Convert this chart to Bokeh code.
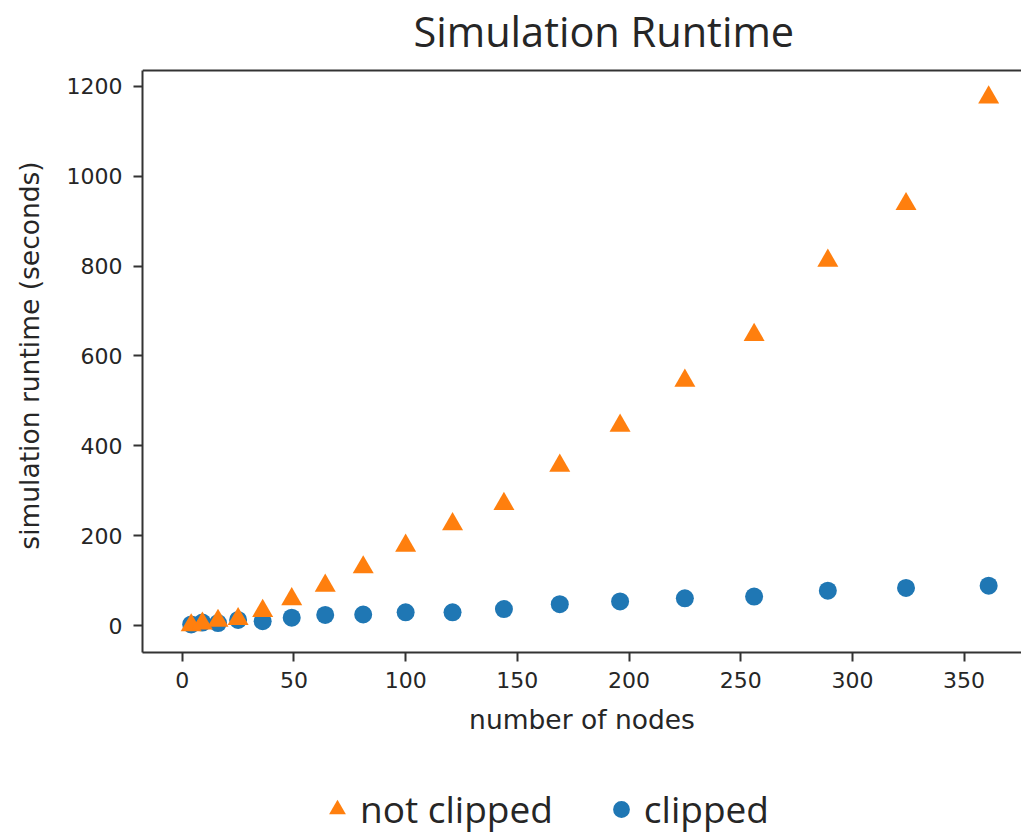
from bokeh.plotting import figure
from bokeh.layouts import column
from bokeh.models import (Legend, LegendItem, FixedTicker, Title, Span,
                          ColumnDataSource, Range1d)
from bokeh.embed import file_html
from bokeh.resources import INLINE

# ---- data ----
nodes = [4, 9, 16, 25, 36, 49, 64, 81, 100, 121, 144, 169, 196, 225, 256, 289, 324, 361]
not_clipped = [1, 5, 11, 15, 33, 59, 89, 130, 178, 226, 271, 356, 445, 545, 647, 812, 938, 1175]
clipped = [3, 7, 6, 13, 10, 18, 24, 25, 30, 30, 37, 48, 54, 61, 65, 78, 84, 89]
x_ticks = [0, 50, 100, 150, 200, 250, 300, 350]
y_ticks = [0, 200, 400, 600, 800, 1000, 1200]
series_labels = ["not clipped", "clipped"]

X_MIN, X_MAX = -17.8, 375.7      # visible x extent
Y_MIN, Y_AXIS_TOP = -59.5, 1235  # axes box (matplotlib style margins)
Y_VIEW_TOP = 1261.7              # room above the box for the title

BLUE = "#1f77b4"
ORANGE = "#ff7f0e"
TXT = "#262626"
SPINE = "#333333"

p = figure(frame_width=879, frame_height=594,
           x_range=Range1d(X_MIN, X_MAX), y_range=Range1d(Y_MIN, Y_VIEW_TOP),
           output_backend="svg", toolbar_location=None,
           min_border_left=142, min_border_right=0, min_border_top=58,
           min_border_bottom=100)
p.outline_line_color = None
p.grid.grid_line_color = None
p.background_fill_color = "white"
p.border_fill_color = "white"

src = ColumnDataSource(dict(x=nodes, nc=not_clipped, c=clipped))
r_c = p.scatter("x", "c", source=src, marker="circle", size=18,
                fill_color=BLUE, line_color=None)
r_nc = p.scatter("x", "nc", source=src, marker="triangle", size=21,
                 fill_color=ORANGE, line_color=None)

for ax in (p.xaxis[0], p.yaxis[0]):
    ax.axis_line_color = SPINE
    ax.axis_line_width = 2
    ax.major_tick_line_color = SPINE
    ax.major_tick_line_width = 2
    ax.major_tick_out = 9
    ax.major_tick_in = 0
    ax.minor_tick_line_color = None
    ax.major_label_text_font = "DejaVu Sans"
    ax.major_label_text_font_size = "22px"
    ax.major_label_text_color = TXT
    ax.axis_label_text_font = "DejaVu Sans"
    ax.axis_label_text_font_size = "26.5px"
    ax.axis_label_text_font_style = "normal"
    ax.axis_label_text_color = TXT

p.xaxis.ticker = FixedTicker(ticks=x_ticks)
p.yaxis.ticker = FixedTicker(ticks=y_ticks)
p.yaxis.bounds = (Y_MIN, Y_AXIS_TOP)
p.xaxis.axis_label = "number of nodes"
p.yaxis.axis_label = "simulation runtime (seconds)"
p.xaxis.major_label_standoff = 10
p.yaxis.major_label_standoff = 11
p.xaxis.axis_label_standoff = 13
p.yaxis.axis_label_standoff = 19

# top spine of the axes box
p.add_layout(Span(location=Y_AXIS_TOP, dimension="width",
                  line_color=SPINE, line_width=2))

p.add_layout(Title(text="Simulation Runtime", align="left", offset=271,
                   standoff=0, text_font="Open Sans", text_font_size="41.5px",
                   text_font_style="normal", text_color=TXT), "above")

# ---- legend strip below the chart ----
lg = figure(frame_width=879, frame_height=82,
            x_range=Range1d(0, 1), y_range=Range1d(0, 1),
            output_backend="svg", toolbar_location=None,
            x_axis_type=None, y_axis_type=None,
            min_border_left=142, min_border_right=0,
            min_border_top=0, min_border_bottom=0)
lg.outline_line_color = None
lg.grid.grid_line_color = None
dummy = ColumnDataSource(dict(x=[-5], y=[-5]))  # off-view, only feeds the legend swatches
l_nc = lg.scatter("x", "y", source=dummy, marker="triangle",
                  fill_color=ORANGE, line_color=None)
l_c = lg.scatter("x", "y", source=dummy, marker="circle",
                 fill_color=BLUE, line_color=None)
legend = Legend(items=[LegendItem(label=series_labels[0], renderers=[l_nc]),
                       LegendItem(label=series_labels[1], renderers=[l_c])],
                orientation="horizontal", location=(174, 0),
                glyph_width=42, glyph_height=42, label_standoff=2,
                spacing=47, padding=0, margin=0,
                label_text_font="Open Sans", label_text_font_size="37px",
                label_text_color=TXT, border_line_color=None,
                background_fill_alpha=0)
lg.add_layout(legend, "center")

layout = column(p, lg, spacing=0)
open("out.html", "w").write(file_html(layout, INLINE))
